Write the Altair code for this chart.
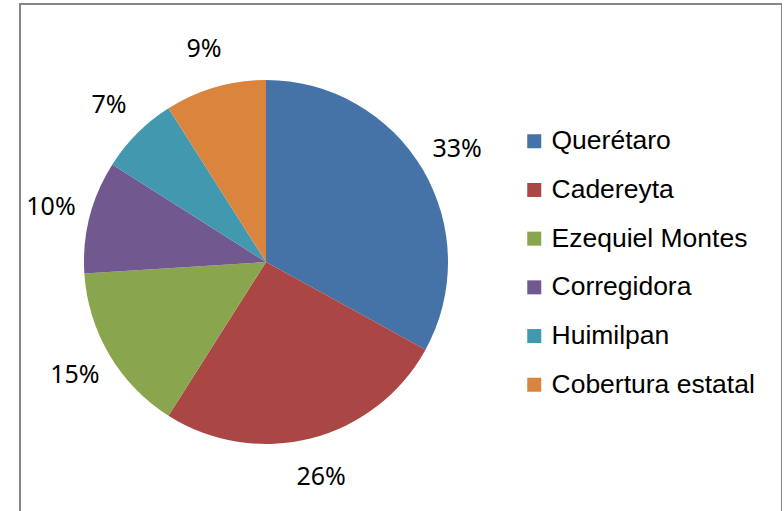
import altair as alt
import pandas as pd

categories = ["Querétaro", "Cadereyta", "Ezequiel Montes", "Corregidora", "Huimilpan", "Cobertura estatal"]
values = [33, 26, 15, 10, 7, 9]
labels = ["33%", "26%", "15%", "10%", "7%", "9%"]
colors = ["#4572A7", "#AA4643", "#89A54E", "#71588F", "#4198AF", "#DB843D"]

df = pd.DataFrame({"cat": categories, "value": values, "label": labels, "idx": list(range(len(values)))})

base = alt.Chart(df).encode(
    theta=alt.Theta("value:Q", stack=True),
    order=alt.Order("idx:Q"),
    x=alt.value(246),
    y=alt.value(258),
)

pie = base.mark_arc(outerRadius=182).encode(
    color=alt.Color(
        "cat:N",
        scale=alt.Scale(domain=categories, range=colors),
        legend=alt.Legend(
            title=None,
            orient="none",
            legendX=501,
            legendY=124,
            symbolType="square",
            symbolSize=196,
            symbolStrokeWidth=0,
            labelFont="Liberation Sans",
            labelFontSize=26.5,
            labelColor="#000000",
            rowPadding=21.7,
            labelOffset=4,
            padding=0,
            labelLimit=400,
        ),
    )
)

text = base.mark_text(radius=222, fontSize=25, font="Noto Sans", color="#000000").encode(
    text="label:N"
)

chart = (
    alt.layer(pie, text)
    .properties(
        width=762,
        height=520,
        autosize=alt.AutoSizeParams(type="none"),
        padding={"left": 20, "top": 4, "right": 0, "bottom": 0},
        background="white",
    )
    .configure_view(stroke="#868686", strokeWidth=2)
)

chart.save("out.html", embed_options={"renderer": "svg", "actions": False})
